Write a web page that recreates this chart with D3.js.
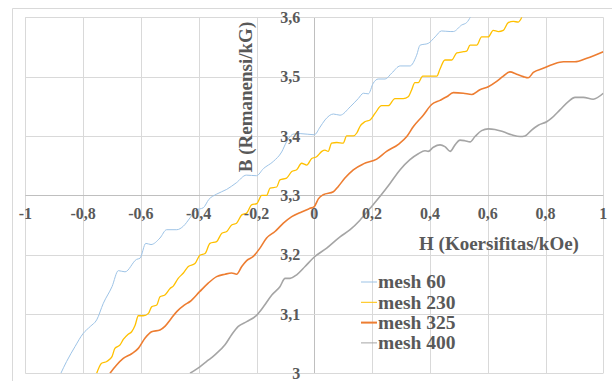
<!DOCTYPE html>
<html>
<head>
<meta charset="utf-8">
<script src="https://cdn.jsdelivr.net/npm/d3@7"></script>
<style>
  html, body { margin: 0; padding: 0; background: #fff; }
  svg text { font-family: "Liberation Serif", "Times New Roman", serif; font-weight: bold; fill: #595959; }
</style>
</head>
<body>
<div id="chart"></div>
<script>
// H (kOe), B (kG) pairs
const mesh60 = [[-0.877,3.0],[-0.857,3.02],[-0.828,3.045],[-0.80,3.067],[-0.775,3.079],[-0.753,3.09],[-0.73,3.118],[-0.70,3.146],[-0.678,3.173],[-0.655,3.171],[-0.615,3.192],[-0.603,3.194],[-0.583,3.219],[-0.565,3.217],[-0.534,3.228],[-0.511,3.242],[-0.476,3.242],[-0.453,3.248],[-0.43,3.262],[-0.41,3.275],[-0.384,3.279],[-0.365,3.293],[-0.338,3.302],[-0.303,3.31],[-0.27,3.321],[-0.235,3.334],[-0.2,3.333],[-0.176,3.345],[-0.142,3.357],[-0.113,3.373],[-0.096,3.39],[-0.073,3.403],[-0.049,3.404],[0,3.402],[0.02,3.415],[0.037,3.427],[0.066,3.437],[0.089,3.435],[0.124,3.449],[0.152,3.463],[0.17,3.472],[0.187,3.471],[0.204,3.489],[0.221,3.496],[0.245,3.496],[0.268,3.506],[0.297,3.518],[0.331,3.518],[0.354,3.536],[0.366,3.553],[0.394,3.556],[0.418,3.567],[0.44,3.577],[0.47,3.576],[0.481,3.576],[0.51,3.587],[0.527,3.591],[0.541,3.601]];
const mesh230 = [[-0.753,3.0],[-0.736,3.017],[-0.718,3.02],[-0.70,3.028],[-0.69,3.042],[-0.672,3.048],[-0.661,3.057],[-0.644,3.066],[-0.632,3.07],[-0.62,3.081],[-0.609,3.097],[-0.592,3.097],[-0.574,3.101],[-0.563,3.112],[-0.545,3.115],[-0.534,3.129],[-0.517,3.132],[-0.499,3.143],[-0.488,3.147],[-0.471,3.16],[-0.453,3.169],[-0.436,3.18],[-0.413,3.185],[-0.396,3.199],[-0.378,3.202],[-0.361,3.219],[-0.338,3.222],[-0.32,3.236],[-0.303,3.239],[-0.286,3.25],[-0.269,3.253],[-0.251,3.267],[-0.234,3.27],[-0.217,3.284],[-0.199,3.286],[-0.182,3.30],[-0.165,3.30],[-0.153,3.312],[-0.13,3.314],[-0.119,3.326],[-0.096,3.329],[-0.078,3.34],[-0.061,3.343],[-0.044,3.354],[-0.026,3.351],[-0.009,3.362],[0.008,3.365],[0.026,3.374],[0.037,3.376],[0.048,3.374],[0.06,3.388],[0.078,3.389],[0.10,3.388],[0.112,3.40],[0.135,3.40],[0.147,3.405],[0.158,3.416],[0.175,3.424],[0.193,3.427],[0.21,3.438],[0.233,3.451],[0.256,3.451],[0.279,3.463],[0.308,3.463],[0.325,3.466],[0.337,3.478],[0.348,3.49],[0.36,3.49],[0.375,3.501],[0.40,3.501],[0.424,3.501],[0.435,3.513],[0.452,3.528],[0.475,3.528],[0.493,3.54],[0.516,3.542],[0.527,3.543],[0.539,3.553],[0.562,3.553],[0.579,3.567],[0.602,3.567],[0.619,3.578],[0.637,3.576],[0.654,3.578],[0.671,3.591],[0.689,3.593],[0.706,3.592],[0.718,3.60]];
const mesh325 = [[-0.707,3.0],[-0.684,3.014],[-0.661,3.025],[-0.632,3.033],[-0.609,3.042],[-0.586,3.059],[-0.563,3.07],[-0.534,3.073],[-0.517,3.079],[-0.499,3.09],[-0.476,3.104],[-0.45,3.115],[-0.43,3.121],[-0.396,3.138],[-0.367,3.152],[-0.338,3.163],[-0.309,3.167],[-0.286,3.169],[-0.269,3.167],[-0.251,3.18],[-0.234,3.19],[-0.211,3.197],[-0.188,3.211],[-0.165,3.228],[-0.136,3.239],[-0.107,3.253],[-0.078,3.264],[-0.044,3.272],[-0.015,3.278],[0,3.281],[0.014,3.294],[0.031,3.301],[0.066,3.306],[0.083,3.315],[0.106,3.329],[0.135,3.343],[0.17,3.353],[0.216,3.361],[0.25,3.374],[0.291,3.386],[0.32,3.399],[0.343,3.416],[0.377,3.435],[0.406,3.453],[0.435,3.46],[0.458,3.466],[0.481,3.473],[0.516,3.472],[0.545,3.47],[0.573,3.478],[0.602,3.483],[0.631,3.492],[0.654,3.501],[0.677,3.508],[0.70,3.504],[0.723,3.50],[0.74,3.498],[0.758,3.507],[0.792,3.514],[0.827,3.521],[0.862,3.525],[0.902,3.525],[0.943,3.531],[1.0,3.542]];
const mesh400 = [[-0.43,3.0],[-0.396,3.011],[-0.367,3.022],[-0.344,3.031],[-0.309,3.048],[-0.286,3.065],[-0.263,3.079],[-0.234,3.087],[-0.199,3.098],[-0.176,3.112],[-0.147,3.132],[-0.119,3.146],[-0.101,3.16],[-0.084,3.16],[-0.061,3.166],[-0.032,3.18],[0,3.196],[0.043,3.211],[0.089,3.23],[0.124,3.242],[0.158,3.258],[0.193,3.278],[0.227,3.298],[0.262,3.32],[0.297,3.343],[0.331,3.36],[0.36,3.37],[0.383,3.375],[0.394,3.374],[0.412,3.381],[0.435,3.385],[0.452,3.382],[0.47,3.374],[0.487,3.385],[0.504,3.393],[0.521,3.392],[0.539,3.39],[0.556,3.399],[0.579,3.409],[0.602,3.412],[0.625,3.411],[0.654,3.407],[0.683,3.402],[0.712,3.399],[0.729,3.40],[0.752,3.41],[0.775,3.418],[0.804,3.424],[0.821,3.43],[0.85,3.444],[0.879,3.458],[0.902,3.465],[0.931,3.465],[0.965,3.462],[1.0,3.472]];

const seriesNames = ['mesh 60', 'mesh 230', 'mesh 325', 'mesh 400'];
const seriesData = [mesh60, mesh230, mesh325, mesh400];
const xTicks = [-1, -0.8, -0.6, -0.4, -0.2, 0, 0.2, 0.4, 0.6, 0.8, 1];
const yTicks = [3, 3.1, 3.2, 3.3, 3.4, 3.5, 3.6];

const colors = ['#9dc3e6', '#ffc000', '#ed7d31', '#a5a5a5'];
const widths = [1, 1.3, 1.6, 1.6];

const width = 612;
const height = 381;

const x = d3.scaleLinear().domain([-1, 1]).range([25.3, 603.3]);
const y = d3.scaleLinear().domain([3, 3.6]).range([373.3, 17.3]);

const loc = d3.formatLocale({ decimal: ',', thousands: '.', grouping: [3], currency: ['', ''], minus: '-' });
const fmt = loc.format('.1~f');

const svg = d3.select('#chart')
  .append('svg')
  .attr('width', width)
  .attr('height', height);

// chart area border
svg.append('path')
  .attr('d', 'M12.5,' + height + 'V8.5H' + width)
  .attr('fill', 'none')
  .attr('stroke', '#d9d9d9');

// gridlines
svg.append('g')
  .selectAll('line')
  .data(xTicks)
  .enter()
  .append('line')
    .attr('x1', d => Math.round(x(d)) + 0.5)
    .attr('x2', d => Math.round(x(d)) + 0.5)
    .attr('y1', y(3.6))
    .attr('y2', y(3))
    .attr('stroke', d => d === 0 ? '#bfbfbf' : '#d9d9d9');

svg.append('g')
  .selectAll('line')
  .data(yTicks)
  .enter()
  .append('line')
    .attr('x1', x(-1))
    .attr('x2', x(1))
    .attr('y1', d => Math.round(y(d)) + 0.5)
    .attr('y2', d => Math.round(y(d)) + 0.5)
    .attr('stroke', d => d === 3.3 ? '#bfbfbf' : '#d9d9d9');

// series
svg.append('clipPath').attr('id', 'plot')
  .append('rect')
    .attr('x', x(-1)).attr('y', y(3.6))
    .attr('width', x(1) - x(-1)).attr('height', y(3) - y(3.6));

const line = d3.line()
  .x(d => x(d[0]))
  .y(d => y(d[1]))
  .curve(d3.curveMonotoneX);

svg.append('g')
  .attr('clip-path', 'url(#plot)')
  .selectAll('path')
  .data(seriesData)
  .enter()
  .append('path')
    .attr('d', line)
    .attr('fill', 'none')
    .attr('stroke', (d, i) => colors[i])
    .attr('stroke-width', (d, i) => widths[i])
    .attr('stroke-linejoin', 'round');

// tick labels
svg.append('g')
  .selectAll('text')
  .data(xTicks)
  .enter()
  .append('text')
    .attr('x', d => x(d))
    .attr('y', 213)
    .attr('dy', '0.35em')
    .attr('text-anchor', 'middle')
    .attr('font-size', 16)
    .text(d => fmt(d));

svg.append('g')
  .selectAll('text')
  .data(yTicks)
  .enter()
  .append('text')
    .attr('x', x(0) - 14)
    .attr('y', d => y(d))
    .attr('dy', '0.35em')
    .attr('text-anchor', 'end')
    .attr('font-size', 16)
    .text(d => fmt(d));

// axis titles
svg.append('text')
  .attr('transform', 'translate(245,97) rotate(-90)')
  .attr('dy', '0.35em')
  .attr('text-anchor', 'middle')
  .attr('font-size', 19)
  .text('B (Remanensi/kG)');

svg.append('text')
  .attr('x', 499)
  .attr('y', 243)
  .attr('dy', '0.35em')
  .attr('text-anchor', 'middle')
  .attr('font-size', 19)
  .text('H (Koersifitas/kOe)');

// legend
const legend = svg.append('g')
  .selectAll('g')
  .data(seriesNames)
  .enter()
  .append('g')
    .attr('transform', (d, i) => 'translate(361,' + (282 + i * 20.3) + ')');

legend.append('line')
  .attr('x1', 0).attr('x2', 16)
  .attr('stroke', (d, i) => colors[i])
  .attr('stroke-width', (d, i) => i === 2 ? 2 : 1);

legend.append('text')
  .attr('x', 17)
  .attr('dy', '0.33em')
  .attr('font-size', 19.5)
  .text(d => d);
</script>
</body>
</html>
